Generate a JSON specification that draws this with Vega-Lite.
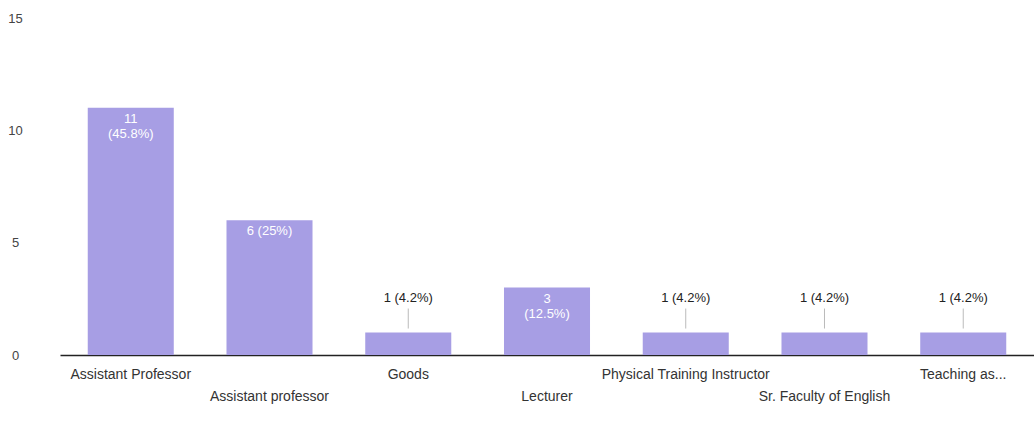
{
  "$schema": "https://vega.github.io/schema/vega-lite/v6.json",
  "width": 974,
  "height": 337,
  "autosize": "none",
  "padding": {"left": 60, "top": 18, "right": 0, "bottom": 66},
  "background": "white",
  "config": {"view": {"stroke": null}, "font": "Liberation Sans"},
  "data": {"values": [
    {"category": "Assistant Professor", "count": 11, "label": "11\n(45.8%)"},
    {"category": "Assistant professor", "count": 6, "label": "6 (25%)"},
    {"category": "Goods", "count": 1, "label": "1 (4.2%)"},
    {"category": "Lecturer", "count": 3, "label": "3\n(12.5%)"},
    {"category": "Physical Training Instructor", "count": 1, "label": "1 (4.2%)"},
    {"category": "Sr. Faculty of English", "count": 1, "label": "1 (4.2%)"},
    {"category": "Teaching as...", "count": 1, "label": "1 (4.2%)"}
  ]},
  "encoding": {
    "x": {"field": "category", "type": "nominal", "sort": null,
      "scale": {"paddingInner": 0.38, "paddingOuter": 0.2},
      "axis": {"title": null, "labelAngle": 0, "ticks": false, "domainColor": "#222", "domainWidth": 1.5,
        "labelFont": "Liberation Sans", "labelFontSize": 14, "labelColor": "#333", "labelLimit": 300, "labelOverlap": false,
        "labelPadding": {"condition": {"test": "indexof(['Assistant professor','Lecturer','Sr. Faculty of English'], datum.value) >= 0", "value": 34}, "value": 12}}},
    "y": {"field": "count", "type": "quantitative",
      "scale": {"domain": [0, 15]},
      "axis": {"title": null, "values": [0, 5, 10, 15], "grid": false, "domain": false, "ticks": false,
        "labelAlign": "center", "labelPadding": 45, "labelFontSize": 13, "labelColor": "#444", "labelFont": "Liberation Sans"}}
  },
  "layer": [
    {"mark": {"type": "bar", "color": "#a79ee4"}},
    {"transform": [{"filter": "datum.count >= 2"}],
     "mark": {"type": "text", "color": "white", "baseline": "top", "dy": 5, "fontSize": 13, "lineBreak": "\n", "font": "Liberation Sans"},
     "encoding": {"text": {"field": "label"}}},
    {"transform": [{"filter": "datum.count < 2"}],
     "mark": {"type": "rule", "color": "#bbb", "yOffset": -4, "y2Offset": -24},
     "encoding": {"y2": {"field": "count"}}},
    {"transform": [{"filter": "datum.count < 2"}],
     "mark": {"type": "text", "color": "#222", "baseline": "middle", "dy": -35, "fontSize": 13, "font": "Liberation Sans"},
     "encoding": {"text": {"field": "label"}}}
  ]
}
